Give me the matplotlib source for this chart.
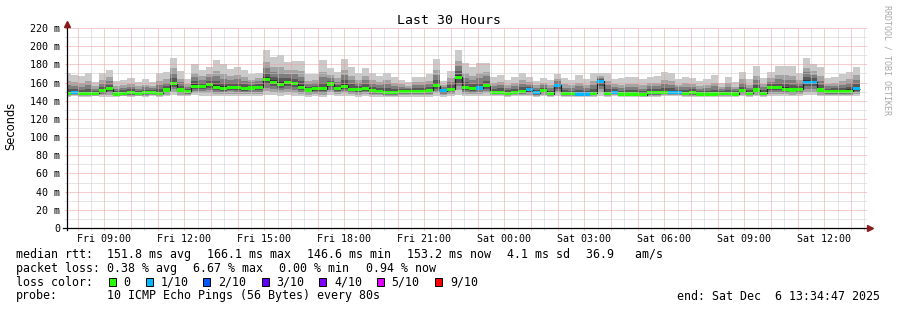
import datetime
import numpy as np
import pandas as pd
import matplotlib
matplotlib.use('Agg')
import matplotlib.pyplot as plt
import matplotlib.dates as mdates
from matplotlib.ticker import MultipleLocator, FuncFormatter
from matplotlib.lines import Line2D
from matplotlib.patches import Rectangle

# time window and bin layout (16 min consolidation)
first_bin = datetime.datetime(2025, 12, 5, 7, 28)
t_start = datetime.datetime(2025, 12, 5, 7, 34, 47)
t_end = datetime.datetime(2025, 12, 6, 13, 34, 47)

# median rtt per bin (ms)
med = [148.1, 148.9, 148.0, 148.0, 148.0, 151.0, 153.0, 147.4, 148.0, 149.0, 148.0, 149.2, 149.0, 148.0,
       151.8, 158.8, 151.8, 150.0, 156.2, 156.0, 157.7, 155.0, 153.6, 155.0, 154.4, 153.3, 154.0, 154.7, 163.0,
       160.6, 158.0, 160.0, 158.8, 155.0, 151.8, 153.0, 153.0, 158.4, 153.6, 156.2, 152.5, 152.5, 153.6,
       151.4, 150.7, 149.2, 149.2, 150.7, 150.7, 150.7, 150.7, 151.4, 156.6, 151.0, 152.5, 165.7, 154.4,
       153.0, 154.0, 156.6, 149.2, 149.6, 148.0, 149.2, 150.7, 152.2, 148.9, 151.0, 147.8, 157.0, 147.8,
       147.8, 147.4, 147.4, 148.0, 161.7, 148.0, 149.6, 147.4, 147.4, 147.4, 146.7, 148.9, 148.9, 149.2,
       148.9, 148.9, 148.0, 148.9, 147.4, 147.4, 147.4, 148.0, 148.0, 147.4, 151.0, 148.0, 151.8, 148.0,
       154.4, 154.4, 152.5, 151.8, 152.5, 160.2, 160.2, 151.8, 150.0, 150.0, 150.0, 150.7, 153.3]
# slowest ping per bin (ms)
hi = [170, 168, 167, 171, 161, 170, 174, 162, 163, 165, 161, 163.5, 161, 170,
      171.6, 187.4, 172.7, 163.5, 180, 174, 177.5, 184.8, 180.4, 174.5, 177.5, 174, 169.4, 171, 196,
      187.7, 190, 183, 184, 184, 169, 169, 184.8, 175.6, 172, 186, 177.5, 170, 176,
      170, 167, 171, 166.5, 163, 160.2, 166.5, 166.5, 169, 186, 161.7, 172.7, 196, 181,
      177.5, 181, 181.9, 166.5, 168.3, 163, 165.7, 171, 165.7, 162, 165.4, 163, 169, 164.6,
      163, 168.3, 163.5, 171, 170, 171, 163.5, 164.6, 166.5, 165.7, 163.5, 166.5, 167.2, 172,
      171, 163.5, 166.5, 164.6, 162, 164, 168.3, 159.9, 166.5, 160.2, 172, 163.5, 178.2, 164.6,
      171.2, 178.2, 178.2, 178.2, 170, 187.4, 180.4, 177.5, 164.6, 166.5, 169.4, 172, 177.5]
# fastest ping per bin (ms)
lo = [144.5, 145, 144.5, 144.5, 145, 144.5, 144, 144.5, 145, 144.5, 145, 144.5, 145, 144.5,
      145, 146, 145, 145.5, 146, 145.5, 145, 145, 145, 145.5, 145, 145, 145.5, 145, 146,
      146, 145.5, 146, 145.5, 145, 144.5, 145, 144.5, 146, 145, 145.5, 145, 144.5, 145,
      144.5, 144.5, 144, 144, 144.5, 144.5, 144.5, 144.5, 144.5, 145.5, 144.5, 145, 146.5, 145.5,
      145, 145.5, 145.5, 145, 145, 144.5, 145, 145, 145, 144.5, 145, 144.5, 145, 144.5,
      144.5, 144.5, 144.5, 144.5, 145, 144.5, 145, 144.5, 144.5, 144.5, 144, 144.5, 144.5, 145,
      145, 145, 144.5, 144.5, 144, 144.5, 144.5, 144.5, 144.5, 144, 145, 144.5, 145, 144.5,
      145.5, 145.5, 145, 145, 145, 146, 146, 145, 145, 145, 145, 145, 145.5]
# lost pings (of 10) per bin
loss = [0, 1, 0, 0, 0, 0, 0, 0, 0, 0, 0, 0, 0, 0,
        0, 0, 0, 0, 0, 0, 0, 0, 0, 0, 0, 0, 0, 0, 0,
        0, 0, 0, 0, 0, 0, 0, 0, 0, 0, 0, 0, 0, 0,
        0, 0, 0, 0, 0, 0, 0, 0, 0, 0, 1, 0, 0, 0,
        0, 1, 0, 0, 0, 0, 0, 0, 1, 1, 0, 0, 1, 0,
        0, 1, 1, 0, 1, 0, 1, 0, 0, 0, 0, 0, 0, 0,
        1, 1, 0, 0, 0, 0, 0, 0, 0, 0, 0, 0, 0, 0,
        0, 0, 0, 0, 0, 1, 1, 0, 0, 0, 0, 0, 1]

loss_labels = ['0', '1/10', '2/10', '3/10', '4/10', '5/10', '9/10']
loss_colors = ['#26ff00', '#00b8ff', '#0059ff', '#5e00ff', '#7e00ff', '#dd00ff', '#ff0000']

stat_lines = [
    ('median rtt:', [(107.3, '151.8 ms avg'), (207.3, '166.1 ms max'), (307.3, '146.6 ms min'),
                     (407.3, '153.2 ms now'), (507.3, '4.1 ms sd'), (586.0, '36.9   am/s')]),
    ('packet loss:', [(107.3, '0.38 % avg'), (193.3, '6.67 % max'), (279.3, '0.00 % min'),
                      (365.7, '0.94 % now')]),
]

W, H = 897, 310
mono = 'DejaVu Sans Mono'


def fx(x):
    return x / W


def fy(y):
    return 1 - y / H


med = np.array(med)
hi = np.array(hi)
lo = np.array(lo)

edges = pd.date_range(first_bin, periods=len(med) + 1, freq='16min')
xe = mdates.date2num(edges.to_pydatetime())
left = xe[:-1]
width = xe[1] - xe[0]

fig = plt.figure(figsize=(W / 100, H / 100), dpi=100)
fig.patch.set_facecolor('white')
ax = fig.add_axes([fx(66.5), fy(228), 800 / W, 200 / H])

# smoke: nested bands, lighter outside, darker toward the median
up_frac = [1.0, 0.6, 0.4, 0.22, 0.08]
dn_frac = [1.0, 0.75, 0.5, 0.3, 0.1]
shades = ['#cacaca', '#a4a4a4', '#7e7e7e', '#585858', '#323232']
for fu, fd, c in zip(up_frac, dn_frac, shades):
    top = med + (hi - med) * fu
    bot = med - (med - lo) * fd
    ax.bar(left, top - bot, bottom=bot, width=width, align='edge', color=c, linewidth=0, zorder=1)

ax.stairs(med, xe, baseline=None, color='#202020', linewidth=0.9, zorder=1.6)
ax.bar(left, 3.3, bottom=med - 1.65, width=width, align='edge',
       color=[loss_colors[l] for l in loss], linewidth=0, zorder=1.7)

ax.set_xlim(mdates.date2num(t_start), mdates.date2num(t_end))
ax.set_ylim(0, 220)

ax.yaxis.set_major_locator(MultipleLocator(20))
ax.yaxis.set_minor_locator(MultipleLocator(10))
ax.yaxis.set_major_formatter(FuncFormatter(lambda v, p: '%d m' % v if v else '0'))

ax.xaxis.set_major_locator(mdates.HourLocator())
ax.xaxis.set_minor_locator(mdates.MinuteLocator(byminute=[30]))
ax.xaxis.set_major_formatter(FuncFormatter(
    lambda v, p: mdates.num2date(v).strftime('%a %H:%M') if mdates.num2date(v).hour % 3 == 0 else ''))

ax.set_axisbelow(False)
ax.grid(which='major', color='#eb9c9c', linewidth=0.72, linestyle=(0, (1, 1)))
ax.grid(which='minor', color='#cccccc', linewidth=0.72, linestyle=(0, (1, 1)))

for s in ax.spines.values():
    s.set_visible(False)
ax.tick_params(axis='y', which='major', length=1.5, width=0.72, color='#f0a0a0', pad=3.2,
               labelsize=7.2, labelfontfamily=mono)
ax.tick_params(axis='y', which='minor', length=1.5, width=0.72, color='#cfcfcf')
ax.tick_params(axis='x', which='major', length=1.5, width=0.72, color='#f0a0a0', pad=2.5,
               labelsize=7.2, labelfontfamily=mono)
ax.tick_params(axis='x', which='minor', length=1.5, width=0.72, color='#cfcfcf')

# axes with arrow heads
fig.add_artist(Line2D([fx(66.5), fx(66.5)], [fy(230), fy(24)], color='black', lw=0.9))
fig.add_artist(Line2D([fx(62.5), fx(869)], [fy(228), fy(228)], color='black', lw=0.9))
fig.add_artist(Line2D([fx(66.5)], [fy(23.5)], marker='^', markersize=4.5, color='#8b1c1c', lw=0))
fig.add_artist(Line2D([fx(870)], [fy(228)], marker='>', markersize=4.5, color='#8b1c1c', lw=0))

fig.text(fx(448.5), fy(20), 'Last 30 Hours', ha='center', va='center', family=mono, size=9.5)
fig.text(fx(11), fy(126), 'Seconds', rotation=90, ha='center', va='center', size=8.3)
fig.text(fx(886.5), fy(60), 'RRDTOOL / TOBI OETIKER', rotation=270, ha='center', va='center',
         family=mono, size=6, color='#a8a8a8')

# legend block
ys = [254.3, 268.3, 282.3, 296.0]
for (head, items), y in zip(stat_lines, ys):
    fig.text(fx(16), fy(y), head, ha='left', va='center', family=mono, size=8.35)
    for x, s in items:
        fig.text(fx(x), fy(y), s, ha='left', va='center', family=mono, size=8.35)

fig.text(fx(16), fy(ys[2]), 'loss color:', ha='left', va='center', family=mono, size=8.35)
box_x = [108.7, 145.7, 203.3, 261.7, 319.3, 377.3, 435.0]
txt_x = [123.3, 160.7, 218.3, 276.0, 334.0, 391.7, 450.0]
for bx, tx, lab, c in zip(box_x, txt_x, loss_labels, loss_colors):
    fig.patches.append(Rectangle((fx(bx), fy(ys[2] + 4)), 7 / W, 8 / H, transform=fig.transFigure,
                                 facecolor=c, edgecolor='black', linewidth=0.7))
    fig.text(fx(tx), fy(ys[2]), lab, ha='left', va='center', family=mono, size=8.35)

fig.text(fx(16), fy(ys[3]), 'probe:', ha='left', va='center', family=mono, size=8.35)
fig.text(fx(107.3), fy(ys[3]), '10 ICMP Echo Pings (56 Bytes) every 80s', ha='left', va='center',
         family=mono, size=8.35)
fig.text(fx(880), fy(ys[3]), 'end: Sat Dec  6 13:34:47 2025', ha='right', va='center',
         family=mono, size=8.35)

fig.savefig('out.png', dpi=100, facecolor='white')
